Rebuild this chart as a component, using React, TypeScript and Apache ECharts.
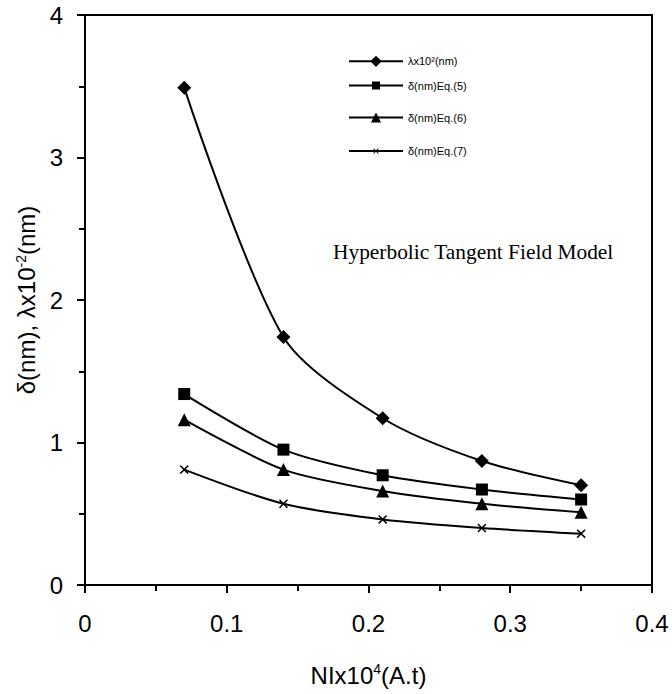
import React, { useEffect, useRef } from "react";
import * as echarts from "echarts";

const xValues = [0.07, 0.14, 0.21, 0.28, 0.35];
const lambdaValues = [3.49, 1.74, 1.17, 0.87, 0.7];
const eq5Values = [1.34, 0.95, 0.77, 0.67, 0.6];
const eq6Values = [1.16, 0.81, 0.66, 0.57, 0.51];
const eq7Values = [0.81, 0.57, 0.46, 0.4, 0.36];

const seriesNames = ["λx10²(nm)", "δ(nm)Eq.(5)", "δ(nm)Eq.(6)", "δ(nm)Eq.(7)"];
const annotation = "Hyperbolic Tangent Field Model";

const SANS = "'Liberation Sans', Arial, sans-serif";
const SERIF = "'Liberation Serif', 'Times New Roman', serif";
const CROSS = "path://M0,1.2L1.2,0L5,3.8L8.8,0L10,1.2L6.2,5L10,8.8L8.8,10L5,6.2L1.2,10L0,8.8L3.8,5Z";

export default function App() {
  const ref = useRef<HTMLDivElement>(null);
  useEffect(() => {
    if (!ref.current) return;
    const chart = echarts.init(ref.current, undefined, { renderer: "svg" });
    const pair = (vals: number[]) => xValues.map((x, i) => [x, vals[i]]);
    const symbols = ["diamond", "rect", "triangle", CROSS];
    const sizes = [14, 12, 13, 9];
    const legendTops = [62.7, 85, 118.3, 149];
    const legendH = [14, 10, 12.5, 7];
    const allVals = [lambdaValues, eq5Values, eq6Values, eq7Values];
    const option: any = {
      animation: false,
      backgroundColor: "#fff",
      grid: {
        left: 85,
        right: 20,
        top: 15,
        bottom: 109,
        show: true,
        borderColor: "#000",
        borderWidth: 2,
      },
      legend: seriesNames.map((n, i) => ({
        data: [n],
        left: 348,
        top: legendTops[i] - legendH[i] / 2,
        padding: 0,
        itemWidth: 54,
        itemHeight: legendH[i],
        itemGap: 0,
        selectedMode: false,
        textStyle: { fontFamily: SANS, fontSize: 11, color: "#000" },
      })),
      xAxis: {
        type: "value",
        min: 0,
        max: 0.4,
        interval: 0.1,
        splitLine: { show: false },
        axisLine: { show: true, lineStyle: { color: "#000", width: 2 } },
        axisTick: { show: true, length: 8, lineStyle: { color: "#000", width: 2 } },
        minorTick: { show: true, splitNumber: 2, length: 6, lineStyle: { color: "#000", width: 2 } },
        axisLabel: { fontFamily: SANS, fontSize: 24, color: "#000", margin: 26 },
        name: "{a|NIx10}{s|4}{a|(A.t)}",
        nameLocation: "middle",
        nameGap: 77,
        nameTextStyle: {
          fontFamily: SANS,
          fontSize: 24,
          color: "#000",
          rich: {
            a: { fontFamily: SANS, fontSize: 24, color: "#000", lineHeight: 26 },
            s: { fontFamily: SANS, fontSize: 14, color: "#000", verticalAlign: "top", lineHeight: 26 },
          },
        },
      },
      yAxis: {
        type: "value",
        min: 0,
        max: 4,
        interval: 1,
        splitLine: { show: false },
        axisLine: { show: true, lineStyle: { color: "#000", width: 2 } },
        axisTick: { show: true, length: 8, lineStyle: { color: "#000", width: 2 } },
        minorTick: { show: true, splitNumber: 2, length: 6, lineStyle: { color: "#000", width: 2 } },
        axisLabel: { fontFamily: SANS, fontSize: 24, color: "#000", margin: 22 },
        name: "{a|δ(nm), λx10}{s|-2}{a|(nm)}",
        nameLocation: "middle",
        nameRotate: 90,
        nameGap: 45,
        nameTextStyle: {
          fontFamily: SANS,
          fontSize: 24,
          color: "#000",
          rich: {
            a: { fontFamily: SANS, fontSize: 24, color: "#000", lineHeight: 26 },
            s: { fontFamily: SANS, fontSize: 14, color: "#000", verticalAlign: "top", lineHeight: 26 },
          },
        },
      },
      graphic: [
        {
          type: "text",
          left: 333,
          top: 241,
          style: { text: annotation, fontFamily: SERIF, fontSize: 21.4, fill: "#000" },
        },
      ],
      series: seriesNames.map((n, i) => ({
        name: n,
        type: "line",
        data: pair(allVals[i]),
        smooth: 0.28,
        symbol: symbols[i],
        symbolSize: sizes[i],
        showSymbol: true,
        lineStyle: { color: "#000", width: 2 },
        itemStyle: { color: "#000" },
      })),
    };
    chart.setOption(option);
    return () => chart.dispose();
  }, []);
  return (
    <div
      ref={ref}
      style={{ position: "fixed", left: 0, top: 0, width: 672, height: 694, background: "#fff" }}
    />
  );
}
